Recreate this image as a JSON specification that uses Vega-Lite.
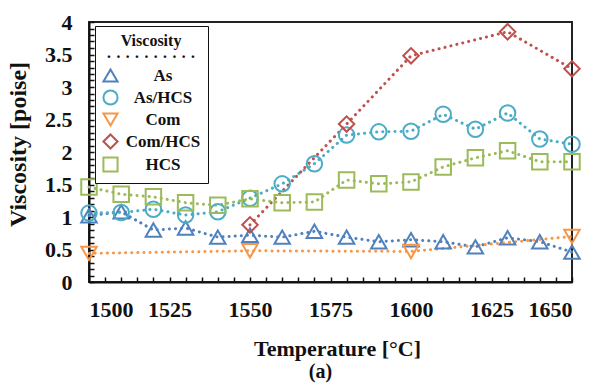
{
  "$schema": "https://vega.github.io/schema/vega-lite/v6.json",
  "width": 483,
  "height": 260,
  "autosize": {"type": "none"},
  "padding": {"left": 89, "top": 22, "right": 26, "bottom": 103},
  "background": "white",
  "view": {"stroke": "#222", "strokeWidth": 2},
  "title": {
    "text": "(a)",
    "orient": "bottom",
    "anchor": "middle",
    "dx": -10,
    "offset": 3,
    "font": "Liberation Serif",
    "fontSize": 20,
    "fontWeight": "bold",
    "color": "#111"
  },
  "data": {
    "values": [
      {"T": 1500, "v": 1.02, "s": "As"},
      {"T": 1510, "v": 1.08, "s": "As"},
      {"T": 1520, "v": 0.80, "s": "As"},
      {"T": 1530, "v": 0.83, "s": "As"},
      {"T": 1540, "v": 0.69, "s": "As"},
      {"T": 1550, "v": 0.72, "s": "As"},
      {"T": 1560, "v": 0.69, "s": "As"},
      {"T": 1570, "v": 0.78, "s": "As"},
      {"T": 1580, "v": 0.69, "s": "As"},
      {"T": 1590, "v": 0.62, "s": "As"},
      {"T": 1600, "v": 0.65, "s": "As"},
      {"T": 1610, "v": 0.62, "s": "As"},
      {"T": 1620, "v": 0.54, "s": "As"},
      {"T": 1630, "v": 0.68, "s": "As"},
      {"T": 1640, "v": 0.62, "s": "As"},
      {"T": 1650, "v": 0.46, "s": "As"},

      {"T": 1500, "v": 1.06, "s": "As/HCS"},
      {"T": 1510, "v": 1.07, "s": "As/HCS"},
      {"T": 1520, "v": 1.12, "s": "As/HCS"},
      {"T": 1530, "v": 1.03, "s": "As/HCS"},
      {"T": 1540, "v": 1.08, "s": "As/HCS"},
      {"T": 1550, "v": 1.29, "s": "As/HCS"},
      {"T": 1560, "v": 1.51, "s": "As/HCS"},
      {"T": 1570, "v": 1.82, "s": "As/HCS"},
      {"T": 1580, "v": 2.26, "s": "As/HCS"},
      {"T": 1590, "v": 2.31, "s": "As/HCS"},
      {"T": 1600, "v": 2.32, "s": "As/HCS"},
      {"T": 1610, "v": 2.58, "s": "As/HCS"},
      {"T": 1620, "v": 2.35, "s": "As/HCS"},
      {"T": 1630, "v": 2.60, "s": "As/HCS"},
      {"T": 1640, "v": 2.20, "s": "As/HCS"},
      {"T": 1650, "v": 2.12, "s": "As/HCS"},

      {"T": 1500, "v": 0.44, "s": "Com"},
      {"T": 1550, "v": 0.48, "s": "Com"},
      {"T": 1600, "v": 0.47, "s": "Com"},
      {"T": 1650, "v": 0.70, "s": "Com"},

      {"T": 1550, "v": 0.88, "s": "Com/HCS"},
      {"T": 1580, "v": 2.43, "s": "Com/HCS"},
      {"T": 1600, "v": 3.48, "s": "Com/HCS"},
      {"T": 1630, "v": 3.85, "s": "Com/HCS"},
      {"T": 1650, "v": 3.28, "s": "Com/HCS"},

      {"T": 1500, "v": 1.46, "s": "HCS"},
      {"T": 1510, "v": 1.35, "s": "HCS"},
      {"T": 1520, "v": 1.31, "s": "HCS"},
      {"T": 1530, "v": 1.22, "s": "HCS"},
      {"T": 1540, "v": 1.18, "s": "HCS"},
      {"T": 1550, "v": 1.28, "s": "HCS"},
      {"T": 1560, "v": 1.22, "s": "HCS"},
      {"T": 1570, "v": 1.23, "s": "HCS"},
      {"T": 1580, "v": 1.57, "s": "HCS"},
      {"T": 1590, "v": 1.51, "s": "HCS"},
      {"T": 1600, "v": 1.54, "s": "HCS"},
      {"T": 1610, "v": 1.77, "s": "HCS"},
      {"T": 1620, "v": 1.91, "s": "HCS"},
      {"T": 1630, "v": 2.02, "s": "HCS"},
      {"T": 1640, "v": 1.85, "s": "HCS"},
      {"T": 1650, "v": 1.85, "s": "HCS"}
    ]
  },
  "encoding": {
    "x": {
      "field": "T",
      "type": "quantitative",
      "scale": {"domain": [1500, 1650], "nice": false, "zero": false},
      "axis": {
        "title": "Temperature [°C]",
        "titleFont": "Liberation Serif",
        "titleFontWeight": "bold",
        "titleFontSize": 22,
        "titleColor": "#111",
        "titlePadding": 18,
        "titleX": 248,
        "grid": false,
        "domainColor": "#111",
        "domainWidth": 2,
        "ticks": true,
        "tickColor": "#111",
        "tickWidth": 1.5,
        "tickSize": -5,
        "labelFont": "Liberation Serif",
        "labelFontSize": 22,
        "labelFontWeight": "bold",
        "labelColor": "#111",
        "labelOverlap": false,
        "labelPadding": 22,
        "values": [1500, 1505, 1510, 1515, 1520, 1525, 1530, 1535, 1540, 1545, 1550, 1555, 1560, 1565, 1570, 1575, 1580, 1585, 1590, 1595, 1600, 1605, 1610, 1615, 1620, 1625, 1630, 1635, 1640, 1645, 1650],
        "labelExpr": "datum.value % 25 == 0 ? format(datum.value, 'd') : ''"
      }
    },
    "y": {
      "field": "v",
      "type": "quantitative",
      "scale": {"domain": [0, 4], "nice": false},
      "axis": {
        "title": "Viscosity [poise]",
        "titleFont": "Liberation Serif",
        "titleFontWeight": "bold",
        "titleFontSize": 24,
        "titleColor": "#111",
        "titlePadding": 14,
        "titleY": 122,
        "grid": false,
        "domainColor": "#111",
        "domainWidth": 2,
        "ticks": true,
        "tickColor": "#111",
        "tickWidth": 1.5,
        "tickSize": -5,
        "labelFont": "Liberation Serif",
        "labelFontSize": 22,
        "labelFontWeight": "bold",
        "labelColor": "#111",
        "labelOverlap": false,
        "labelPadding": 22,
        "values": [0, 0.1, 0.2, 0.3, 0.4, 0.5, 0.6, 0.7, 0.8, 0.9, 1, 1.1, 1.2, 1.3, 1.4, 1.5, 1.6, 1.7, 1.8, 1.9, 2, 2.1, 2.2, 2.3, 2.4, 2.5, 2.6, 2.7, 2.8, 2.9, 3, 3.1, 3.2, 3.3, 3.4, 3.5, 3.6, 3.7, 3.8, 3.9, 4],
        "labelExpr": "round(datum.value * 10) % 5 == 0 ? format(datum.value, '~g') : ''"
      }
    },
    "color": {
      "field": "s",
      "type": "nominal",
      "scale": {
        "domain": ["As", "As/HCS", "Com", "Com/HCS", "HCS"],
        "range": ["#4F81BD", "#4BACC6", "#F79646", "#C0504D", "#9BBB59"]
      },
      "legend": {
        "title": ["Viscosity", "· · · · · · · · · ·"],
        "orient": "none",
        "legendX": 6,
        "legendY": 4,
        "fillColor": "white",
        "strokeColor": "#111",
        "padding": 7,
        "titleFont": "Liberation Serif",
        "titleFontSize": 16,
        "titleFontWeight": "bold",
        "titleColor": "#111",
        "titleAnchor": "middle",
        "titleAlign": "center",
        "titlePadding": 2,
        "titleLineHeight": 16,
        "labelFont": "Liberation Serif",
        "labelFontSize": 17,
        "labelFontWeight": "bold",
        "labelColor": "#111",
        "labelAlign": "center",
        "labelOffset": 44,
        "symbolSize": 200,
        "symbolStrokeWidth": 2,
        "symbolFillColor": "transparent",
        "rowPadding": 0
      }
    }
  },
  "layer": [
    {
      "mark": {"type": "line", "strokeWidth": 3, "strokeDash": [0.1, 6], "strokeCap": "round"},
      "encoding": {}
    },
    {
      "mark": {"type": "point", "filled": false, "strokeWidth": 2, "size": 240, "opacity": 1},
      "encoding": {
        "shape": {
          "field": "s",
          "type": "nominal",
          "scale": {
            "domain": ["As", "As/HCS", "Com", "Com/HCS", "HCS"],
            "range": ["triangle-up", "circle", "triangle-down", "diamond", "square"]
          },
          "legend": {
            "title": ["Viscosity", "· · · · · · · · · ·"],
            "orient": "none",
            "legendX": 6,
            "legendY": 4,
            "fillColor": "white",
            "strokeColor": "#111",
            "padding": 7,
            "titleFont": "Liberation Serif",
            "titleFontSize": 16,
            "titleFontWeight": "bold",
            "titleColor": "#111",
            "titleAnchor": "middle",
            "titleAlign": "center",
            "titlePadding": 2,
            "titleLineHeight": 16,
            "labelFont": "Liberation Serif",
            "labelFontSize": 17,
            "labelFontWeight": "bold",
            "labelColor": "#111",
            "labelAlign": "center",
            "labelOffset": 44,
            "symbolSize": 200,
            "symbolStrokeWidth": 2,
            "symbolFillColor": "transparent",
            "rowPadding": 0
          }
        }
      }
    }
  ]
}
